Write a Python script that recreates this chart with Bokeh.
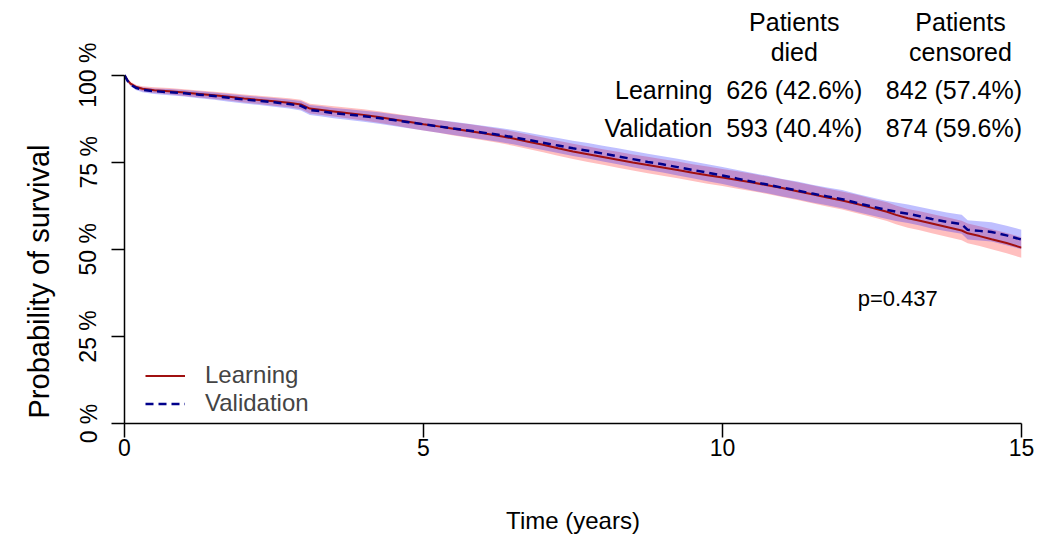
from bokeh.plotting import figure
from bokeh.models import (ColumnDataSource, FixedTicker, LinearAxis, Range1d,
                          Legend, LegendItem, Title)
from bokeh.core.properties import value
from bokeh.embed import file_html
from bokeh.resources import INLINE

# ---------------- data ----------------
time_years = [0, 0.05, 0.1, 0.2, 0.3, 0.5, 0.75, 1.0,
              1.25, 1.5, 1.75, 2.0, 2.25, 2.5, 2.75, 2.95,
              3.1, 3.3, 3.5, 3.75, 4.0, 4.25, 4.5, 4.75, 5.0,
              5.25, 5.5, 5.75, 6.0, 6.25, 6.5, 6.75, 7.0,
              7.25, 7.5, 7.75, 8.0, 8.25, 8.5, 8.75, 9.0,
              9.25, 9.5, 9.75, 10.0, 10.25, 10.5, 10.75, 11.0,
              11.25, 11.5, 11.75, 12.0, 12.25, 12.5, 12.75, 12.9,
              13.1, 13.3, 13.5, 13.75, 14.0, 14.1, 14.3, 14.5, 14.75, 15.0]

learning_surv = [100, 98.6, 97.6, 96.6, 96.1, 95.7, 95.4, 95.0,
                 94.6, 94.2, 93.8, 93.3, 92.9, 92.5, 92.1, 91.6,
                 90.4, 90.0, 89.6, 89.1, 88.6, 88.0, 87.3, 86.6, 85.9,
                 85.3, 84.6, 84.0, 83.3, 82.6, 81.8, 80.9, 80.0,
                 79.0, 78.1, 77.3, 76.5, 75.7, 74.9, 74.2, 73.5,
                 72.8, 72.0, 71.3, 70.6, 69.9, 69.2, 68.4, 67.6,
                 66.7, 65.8, 64.9, 64.0, 63.0, 61.9, 60.8, 59.9,
                 58.9, 58.2, 57.4, 56.4, 55.4, 54.6, 53.8, 52.9, 51.8, 50.5]

validation_surv = [100, 98.4, 97.3, 96.3, 95.8, 95.4, 95.1, 94.8,
                   94.4, 94.0, 93.5, 93.0, 92.6, 92.2, 91.7, 91.2,
                   90.0, 89.6, 89.1, 88.7, 88.2, 87.7, 87.1, 86.5, 85.9,
                   85.3, 84.7, 84.1, 83.5, 82.9, 82.2, 81.4, 80.6,
                   79.8, 79.0, 78.3, 77.5, 76.7, 75.9, 75.1, 74.4,
                   73.6, 72.8, 72.0, 71.2, 70.3, 69.4, 68.6, 67.7,
                   66.9, 66.0, 65.2, 64.4, 63.3, 62.3, 61.3, 60.8,
                   60.2, 59.5, 58.7, 57.9, 57.2, 55.6, 55.3, 55.0, 54.0, 52.8]

# half width of the 95% confidence band (percentage points)
learning_ci_half = [0, 0.4, 0.5, 0.6, 0.7, 0.8, 0.9, 0.95,
                    1.0, 1.05, 1.1, 1.15, 1.2, 1.25, 1.3, 1.35,
                    1.4, 1.45, 1.5, 1.55, 1.6, 1.65, 1.7, 1.75, 1.8,
                    1.85, 1.9, 1.95, 2.0, 2.0, 2.05, 2.1, 2.1,
                    2.15, 2.2, 2.2, 2.25, 2.3, 2.3, 2.35, 2.35,
                    2.4, 2.4, 2.45, 2.45, 2.5, 2.5, 2.5, 2.55,
                    2.55, 2.6, 2.6, 2.6, 2.65, 2.65, 2.7, 2.7,
                    2.7, 2.75, 2.75, 2.8, 2.8, 2.85, 2.85, 2.9, 2.9, 2.95]

validation_ci_half = [0, 0.4, 0.5, 0.6, 0.7, 0.8, 0.9, 0.95,
                      1.0, 1.05, 1.1, 1.15, 1.2, 1.25, 1.3, 1.35,
                      1.4, 1.45, 1.5, 1.55, 1.6, 1.65, 1.7, 1.75, 1.8,
                      1.85, 1.9, 1.95, 2.0, 2.0, 2.05, 2.1, 2.1,
                      2.15, 2.2, 2.2, 2.25, 2.3, 2.3, 2.35, 2.35,
                      2.4, 2.4, 2.45, 2.45, 2.5, 2.5, 2.5, 2.5,
                      2.55, 2.55, 2.55, 2.6, 2.6, 2.6, 2.6, 2.65,
                      2.65, 2.65, 2.7, 2.7, 2.7, 2.75, 2.75, 2.75, 2.8, 2.8]

groups = ["Learning", "Validation"]
n_died = [626, 593]
pct_died = [42.6, 40.4]
n_censored = [842, 874]
pct_censored = [57.4, 59.6]
p_value = 0.437

x_ticks = [0, 5, 10, 15]
y_ticks = [0, 0.25, 0.5, 0.75, 1.0]
y_tick_labels = ["0 %", "25 %", "50 %", "75 %", "100 %"]

# ---------------- figure ----------------
FONT = "Liberation Sans"
RED = "#A01010"
BLUE = "#00008B"

p = figure(width=1050, height=542, output_backend="svg", toolbar_location=None,
           x_range=Range1d(0, 15), y_range=Range1d(0, 1.2),
           x_axis_type=None, y_axis_type=None,
           min_border_left=124, min_border_right=29,
           min_border_top=5, min_border_bottom=119)
p.outline_line_color = None
p.xgrid.visible = False
p.ygrid.visible = False
p.background_fill_color = "white"


def frac(vals):
    return [v / 100.0 for v in vals]


src_l = ColumnDataSource(dict(
    t=time_years, s=frac(learning_surv),
    lo=frac([s - h for s, h in zip(learning_surv, learning_ci_half)]),
    hi=frac([s + h for s, h in zip(learning_surv, learning_ci_half)])))
src_v = ColumnDataSource(dict(
    t=time_years, s=frac(validation_surv),
    lo=frac([s - h for s, h in zip(validation_surv, validation_ci_half)]),
    hi=frac([s + h for s, h in zip(validation_surv, validation_ci_half)])))

p.varea(x="t", y1="lo", y2="hi", source=src_l,
        fill_color="#FF0000", fill_alpha=0.25)
p.varea(x="t", y1="lo", y2="hi", source=src_v,
        fill_color="#0000FF", fill_alpha=0.25)

r_l = p.line(x="t", y="s", source=src_l, line_color=RED, line_width=2)
r_v = p.line(x="t", y="s", source=src_v, line_color=BLUE, line_width=2.5,
             line_dash="8 5")

# axes
xax = LinearAxis(ticker=FixedTicker(ticks=x_ticks), bounds=(0, 15),
                 axis_label="Time (years)")
yax = LinearAxis(ticker=FixedTicker(ticks=y_ticks), bounds=(0, 1),
                 major_label_overrides={t: l for t, l in zip(y_ticks, y_tick_labels)},
                 major_label_orientation="vertical")
for ax in (xax, yax):
    ax.axis_line_color = "black"
    ax.axis_line_width = 1.5
    ax.major_tick_line_color = "black"
    ax.major_tick_line_width = 1.5
    ax.minor_tick_line_color = None
    ax.major_tick_in = 0
    ax.major_label_text_font = FONT
    ax.major_label_text_font_size = "23px"
    ax.major_label_text_color = "black"
    ax.axis_label_text_font = FONT
    ax.axis_label_text_font_size = "24px"
    ax.axis_label_text_font_style = "normal"
    ax.axis_label_text_color = "black"
xax.major_tick_out = 14
xax.major_label_standoff = 1
xax.axis_label_standoff = 48
yax.major_tick_out = 13
yax.major_label_standoff = 10
p.add_layout(xax, "below")
p.add_layout(yax, "left")

# y axis title, placed like the reference (starts near the bottom of the frame)
ytitle = Title(text="Probability of survival", align="left", offset=5,
               text_font=FONT, text_font_size="29px", text_font_style="normal",
               text_color="black", standoff=36)
p.add_layout(ytitle, "left")

# legend
legend = Legend(items=[LegendItem(label="Learning", renderers=[r_l]),
                       LegendItem(label="Validation", renderers=[r_v])],
                location=(21, 6), padding=0, spacing=0,
                glyph_width=40, glyph_height=27, label_height=27, label_standoff=20,
                label_text_font=FONT, label_text_font_size="24px",
                border_line_color=None, background_fill_alpha=0)
p.add_layout(legend)

# table of events
row_y = [0.957, 0.848]
col1_x, col2_x, lab_x = 11.2, 13.87, 9.83
head2_x = 13.98
txt = dict(x=[], y=[], text=[], align=[])


def add(x, y, s, a):
    txt["x"].append(x); txt["y"].append(y); txt["text"].append(s); txt["align"].append(a)


add(col1_x, 1.152, "Patients", "center")
add(col1_x, 1.066, "died", "center")
add(head2_x, 1.152, "Patients", "center")
add(head2_x, 1.066, "censored", "center")
for g, d, pd_, c, pc, y in zip(groups, n_died, pct_died, n_censored, pct_censored, row_y):
    add(lab_x, y, g, "right")
    add(col1_x, y, f"{d} ({pd_:.1f}%)", "center")
    add(col2_x, y, f"{c} ({pc:.1f}%)", "center")

p.text(x="x", y="y", text="text", text_align="align", source=ColumnDataSource(txt),
       text_baseline="middle", text_font=value(FONT), text_font_size="25px",
       text_color="black")
p.text(x=[12.93], y=[0.359], text=[f"p={p_value}"], text_align="center",
       text_baseline="middle", text_font=value(FONT), text_font_size="22px",
       text_color="black")

open("out.html", "w").write(file_html(p, INLINE))
